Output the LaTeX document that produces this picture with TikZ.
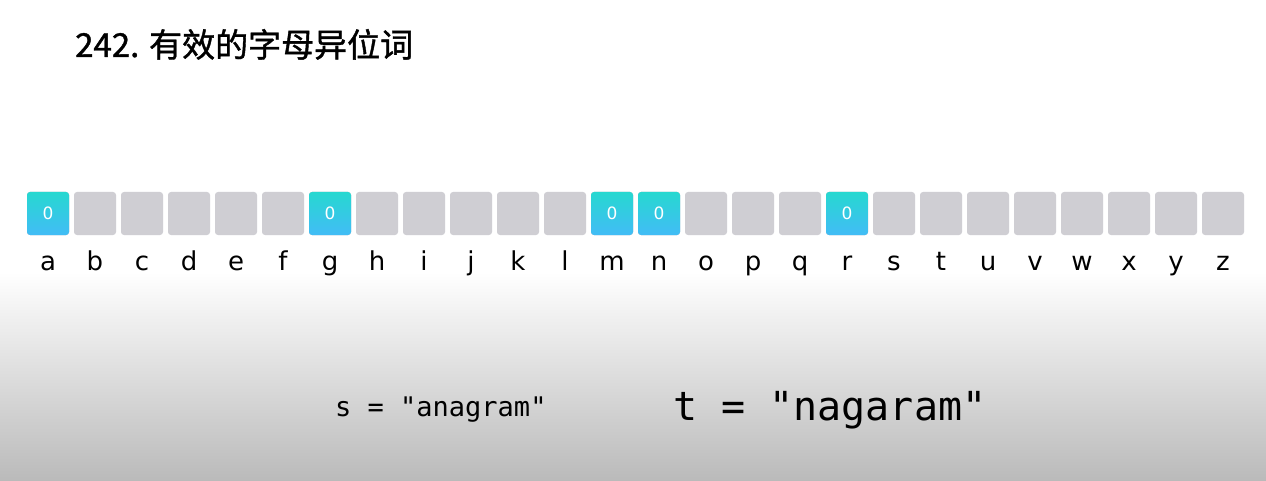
\documentclass[tikz,border=0pt]{standalone}
\usepackage{fontspec}
\newfontfamily\cjkfont[FakeBold=1.2]{Noto Sans CJK SC}
\newfontfamily\letterfont{DejaVu Sans}
\setmonofont{DejaVu Sans Mono}
\usetikzlibrary{positioning}
\definecolor{cellgray}{RGB}{207,206,211}
\definecolor{hittop}{RGB}{38,216,208}
\definecolor{hitbot}{RGB}{66,188,246}
\definecolor{bggray}{RGB}{186,186,186}

\begin{document}
\begin{tikzpicture}[x=1pt,y=-1pt,
  cell/.style={fill=cellgray,rounded corners=3pt,minimum width=42pt,minimum height=43pt,inner sep=0pt},
  hit/.style={cell,top color=hittop,bottom color=hitbot,text=white,font=\letterfont\fontsize{17}{17}\selectfont},
  letter/.style={anchor=base,inner sep=0pt,font=\letterfont\fontsize{26}{26}\selectfont}]
\useasboundingbox (0,0) rectangle (1266,481);
\fill[white] (0,0) rectangle (1266,272);
\shade[top color=white,bottom color=bggray] (0,272) rectangle (1266,481);
\node[anchor=base west,inner sep=0pt,font=\cjkfont\fontsize{33}{33}\selectfont] (title) at (75,57) {242. 有效的字母异位词};
% alphabet cells
\foreach \l [count=\i from 0] in {a,...,z}{
\node[cell] (c\l) at (48+47*\i,213.5) {};
\node[letter] (l\l) at (48+47*\i,270) {\l};}
\foreach \l in {a,g,m,n,r}{
\node[hit] (h\l) at (c\l) {0};}
\node[anchor=base west,inner sep=0pt,font=\ttfamily\fontsize{27}{27}\selectfont] (s) at (335,416) {s = "anagram"};
\node[anchor=base west,inner sep=0pt,font=\ttfamily\fontsize{40}{40}\selectfont] (t) at (673,420) {t = "nagaram"};
\end{tikzpicture}
\end{document}
